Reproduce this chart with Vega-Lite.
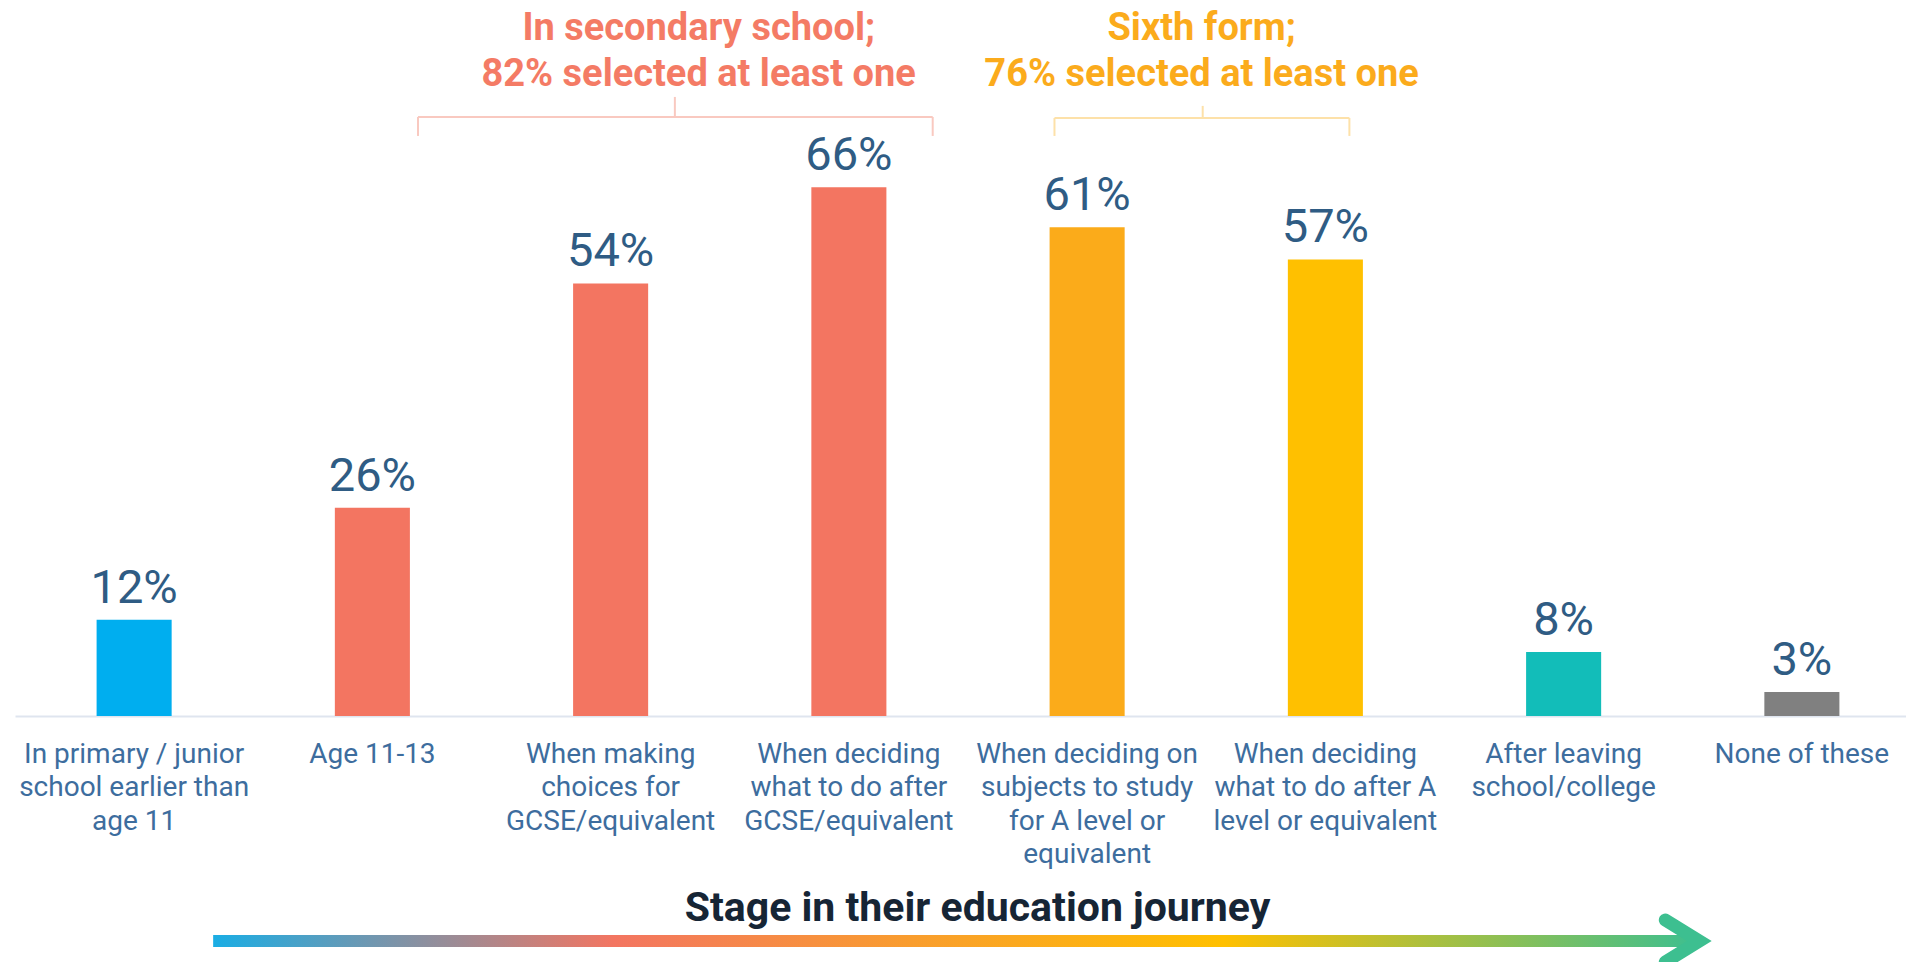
{
  "$schema": "https://vega.github.io/schema/vega-lite/v6.json",
  "width": 1891,
  "height": 716,
  "autosize": {"type": "none"},
  "padding": {"left": 15, "top": 0, "right": 0, "bottom": 246},
  "background": "white",
  "config": {"view": {"stroke": null}, "font": "Roboto"},
  "resolve": {"axis": {"x": "independent", "y": "independent"}},
  "layer": [
    {
      "data": {"values": [
        {"stage": "In primary / junior\nschool earlier than\nage 11", "value": 0.12},
        {"stage": "Age 11-13", "value": 0.26},
        {"stage": "When making\nchoices for\nGCSE/equivalent", "value": 0.54},
        {"stage": "When deciding\nwhat to do after\nGCSE/equivalent", "value": 0.66},
        {"stage": "When deciding on\nsubjects to study\nfor A level or\nequivalent", "value": 0.61},
        {"stage": "When deciding\nwhat to do after A\nlevel or equivalent", "value": 0.57},
        {"stage": "After leaving\nschool/college", "value": 0.08},
        {"stage": "None of these", "value": 0.03}
      ]},
      "encoding": {
        "x": {
          "field": "stage", "type": "nominal", "sort": null,
          "scale": {"range": [0, 1906], "paddingInner": 0.685, "paddingOuter": 0.3425},
          "axis": {
            "title": "Stage in their education journey",
            "titleFont": "Roboto", "titleFontSize": 41, "titleFontWeight": "bold", "titleColor": "#162535",
            "titleX": 962, "titleY": 204, "titleAlign": "center", "titleBaseline": "alphabetic",
            "labelAngle": 0, "labelFont": "Roboto", "labelFontSize": 28, "labelColor": "#3d6d9e",
            "labelLineHeight": 33.5, "labelPadding": 24, "labelLimit": 400, "labelOverlap": false,
            "labelBound": false, "labelExpr": "split(datum.label, '\\n')",
            "ticks": false, "tickSize": 0, "domainColor": "#dfe5ef", "domainWidth": 2, "grid": false
          }
        },
        "y": {"field": "value", "type": "quantitative", "scale": {"domain": [0, 0.8938], "nice": false, "zero": false}, "axis": null}
      },
      "layer": [
        {
          "mark": {"type": "bar"},
          "encoding": {
            "color": {
              "field": "stage", "type": "nominal", "sort": null, "legend": null,
              "scale": {"range": ["#00aeef", "#f37561", "#f37561", "#f37561", "#fbab1a", "#ffc000", "#12bdb9", "#808080"]}
            }
          }
        },
        {
          "mark": {"type": "text", "dy": -17, "baseline": "alphabetic", "align": "center", "fontSize": 47, "font": "Roboto", "color": "#2f5c84"},
          "encoding": {"text": {"field": "value", "type": "quantitative", "format": ".0%"}}
        }
      ]
    },
    {
      "data": {"values": [{}]},
      "mark": {"type": "rule", "color": "#f9c9c0", "strokeWidth": 2},
      "encoding": {
        "x": {"datum": "Age 11-13", "bandPosition": 1.108, "axis": null},
        "x2": {"datum": "When deciding\nwhat to do after\nGCSE/equivalent", "bandPosition": 1.617},
        "y": {"datum": 0.7478, "axis": null}
      }
    },
    {
      "data": {"values": [{}]},
      "mark": {"type": "rule", "color": "#f9c9c0", "strokeWidth": 2},
      "encoding": {
        "x": {"datum": "Age 11-13", "bandPosition": 1.108, "axis": null},
        "y": {"datum": 0.7478, "axis": null}, "y2": {"datum": 0.7241}
      }
    },
    {
      "data": {"values": [{}]},
      "mark": {"type": "rule", "color": "#f9c9c0", "strokeWidth": 2},
      "encoding": {
        "x": {"datum": "When deciding\nwhat to do after\nGCSE/equivalent", "bandPosition": 1.617, "axis": null},
        "y": {"datum": 0.7478, "axis": null}, "y2": {"datum": 0.7241}
      }
    },
    {
      "data": {"values": [{}]},
      "mark": {"type": "rule", "color": "#f9c9c0", "strokeWidth": 2},
      "encoding": {
        "x": {"datum": "When making\nchoices for\nGCSE/equivalent", "bandPosition": 1.356, "axis": null},
        "y": {"datum": 0.7478, "axis": null}, "y2": {"datum": 0.7728}
      }
    },
    {
      "data": {"values": [{}]},
      "mark": {"type": "rule", "color": "#fde1a9", "strokeWidth": 2},
      "encoding": {
        "x": {"datum": "When deciding on\nsubjects to study\nfor A level or\nequivalent", "bandPosition": 0.065, "axis": null},
        "x2": {"datum": "When deciding\nwhat to do after A\nlevel or equivalent", "bandPosition": 0.82},
        "y": {"datum": 0.7465, "axis": null}
      }
    },
    {
      "data": {"values": [{}]},
      "mark": {"type": "rule", "color": "#fde1a9", "strokeWidth": 2},
      "encoding": {
        "x": {"datum": "When deciding on\nsubjects to study\nfor A level or\nequivalent", "bandPosition": 0.065, "axis": null},
        "y": {"datum": 0.7465, "axis": null}, "y2": {"datum": 0.7241}
      }
    },
    {
      "data": {"values": [{}]},
      "mark": {"type": "rule", "color": "#fde1a9", "strokeWidth": 2},
      "encoding": {
        "x": {"datum": "When deciding\nwhat to do after A\nlevel or equivalent", "bandPosition": 0.82, "axis": null},
        "y": {"datum": 0.7465, "axis": null}, "y2": {"datum": 0.7241}
      }
    },
    {
      "data": {"values": [{}]},
      "mark": {"type": "rule", "color": "#fde1a9", "strokeWidth": 2},
      "encoding": {
        "x": {"datum": "When deciding on\nsubjects to study\nfor A level or\nequivalent", "bandPosition": 2.04, "axis": null},
        "y": {"datum": 0.7465, "axis": null}, "y2": {"datum": 0.7616}
      }
    },
    {
      "data": {"values": [{}]},
      "mark": {"type": "text", "text": "In secondary school;\n82% selected at least one", "lineBreak": "\n", "lineHeight": 46,
               "align": "center", "baseline": "alphabetic", "fontSize": 38, "fontWeight": "bold", "font": "Roboto", "color": "#f47b65"},
      "encoding": {
        "x": {"datum": "When making\nchoices for\nGCSE/equivalent", "bandPosition": 1.673, "axis": null},
        "y": {"datum": 0.844, "axis": null}
      }
    },
    {
      "data": {"values": [{}]},
      "mark": {"type": "text", "text": "Sixth form;\n76% selected at least one", "lineBreak": "\n", "lineHeight": 46,
               "align": "center", "baseline": "alphabetic", "fontSize": 38, "fontWeight": "bold", "font": "Roboto", "color": "#fbab1c"},
      "encoding": {
        "x": {"datum": "When deciding on\nsubjects to study\nfor A level or\nequivalent", "bandPosition": 2.025, "axis": null},
        "y": {"datum": 0.844, "axis": null}
      }
    },
    {
      "data": {"values": [{}]},
      "mark": {"type": "rect", "color": {"gradient": "linear", "x1": 0, "y1": 0, "x2": 1, "y2": 0, "stops": [
        {"offset": 0, "color": "#1aade4"},
        {"offset": 0.27, "color": "#f37561"},
        {"offset": 0.47, "color": "#f99d2e"},
        {"offset": 0.68, "color": "#ffc000"},
        {"offset": 1, "color": "#3dbf90"}
      ]}},
      "encoding": {
        "x": {"datum": "In primary / junior\nschool earlier than\nage 11", "bandPosition": 1.553, "axis": null},
        "x2": {"datum": "After leaving\nschool/college", "bandPosition": 2.30},
        "y": {"datum": -0.2734, "axis": null},
        "y2": {"datum": -0.2884}
      }
    },
    {
      "data": {"values": [{}]},
      "mark": {"type": "point", "shape": "M-1.62,-1L0,0L-1.62,1", "size": 1764, "filled": false, "stroke": "#3dbf90", "strokeWidth": 13, "strokeCap": "round", "strokeJoin": "miter", "opacity": 1},
      "encoding": {
        "x": {"datum": "After leaving\nschool/college", "bandPosition": 2.308, "axis": null},
        "y": {"datum": -0.2809, "axis": null}
      }
    }
  ]
}
